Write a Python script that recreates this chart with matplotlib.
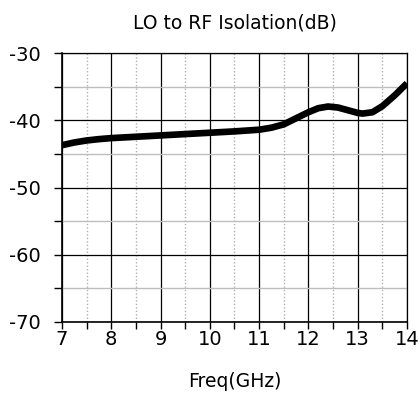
import matplotlib
matplotlib.use('Agg')
import matplotlib.pyplot as plt
from matplotlib.ticker import MultipleLocator

freq = [7.0, 7.25, 7.5, 7.75, 8.0, 8.5, 9.0, 9.5, 10.0, 10.5, 11.0, 11.25,
        11.5, 11.75, 12.0, 12.2, 12.4, 12.6, 12.8, 13.0, 13.1, 13.3, 13.5,
        13.75, 14.0]
isolation = [-43.7, -43.3, -43.0, -42.8, -42.65, -42.45, -42.25, -42.05,
             -41.85, -41.65, -41.4, -41.1, -40.6, -39.7, -38.8, -38.2, -37.95,
             -38.1, -38.5, -38.9, -39.0, -38.8, -37.9, -36.3, -34.5]

plt.rcParams['font.family'] = ['DejaVu Sans']
plt.rcParams['axes.unicode_minus'] = False

fig = plt.figure(figsize=(4.2, 3.99), dpi=100)
ax = fig.add_axes([0.1476, 0.193, 0.8214, 0.674])

ax.plot(freq, isolation, color='black', lw=4.8, solid_capstyle='butt',
        solid_joinstyle='round', zorder=3)

ax.set_xlim(7, 14)
ax.set_ylim(-70, -30)
ax.xaxis.set_major_locator(MultipleLocator(1))
ax.xaxis.set_minor_locator(MultipleLocator(0.5))
ax.yaxis.set_major_locator(MultipleLocator(10))
ax.yaxis.set_minor_locator(MultipleLocator(5))

ax.grid(which='major', axis='both', color='black', lw=0.9)
ax.grid(which='minor', axis='y', color='#bdbdbd', lw=1.0)
ax.grid(which='minor', axis='x', color='#b0b0b0', lw=1.0, ls=(0, (1, 1.5)))

ax.tick_params(which='both', direction='out', length=5, width=1, colors='black')
ax.tick_params(axis='y', which='both', length=6, pad=9, labelsize=14)
ax.tick_params(axis='x', which='both', length=5, pad=1, labelsize=14)
for s in ['top', 'right']:
    ax.spines[s].set_color('black')
    ax.spines[s].set_linewidth(0.9)
for s in ['left', 'bottom']:
    ax.spines[s].set_linewidth(1.2)

ax.set_title('LO to RF Isolation(dB)', fontsize=13.5, pad=18)
ax.set_xlabel('Freq(GHz)', fontsize=13.5, labelpad=16)

plt.savefig('out.png', dpi=100)
plt.close()
